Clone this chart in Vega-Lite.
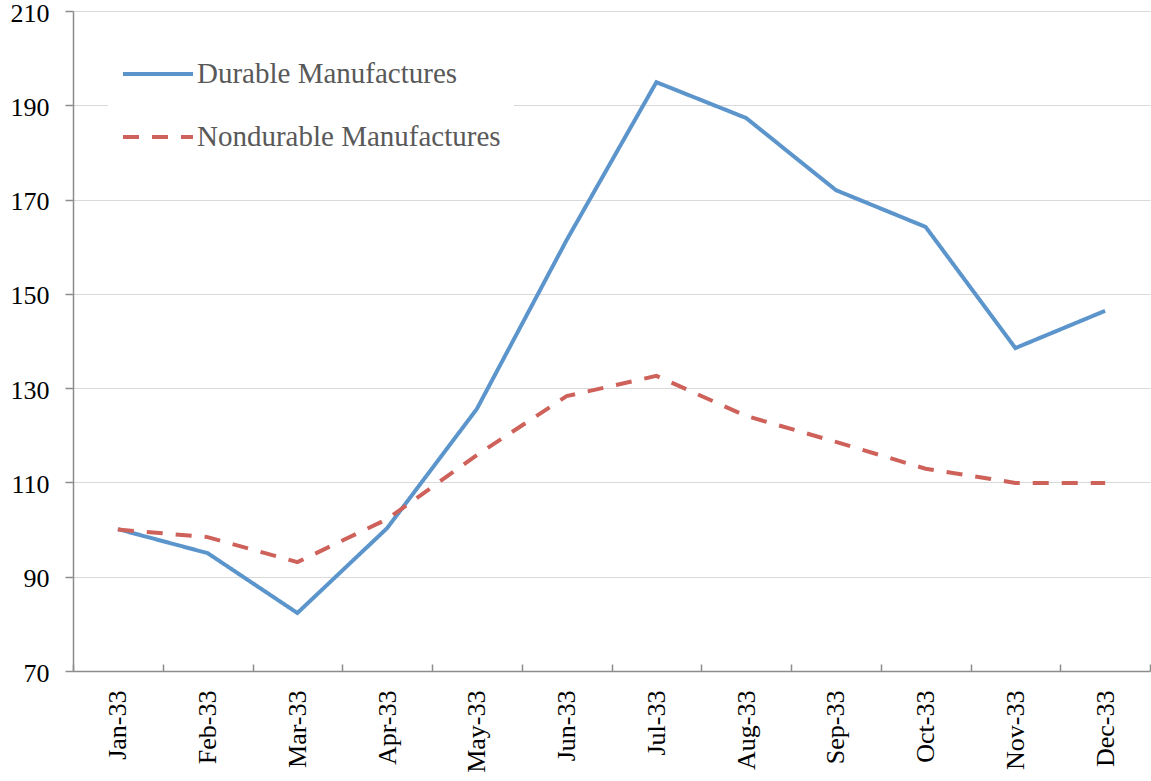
{
  "$schema": "https://vega.github.io/schema/vega-lite/v6.json",
  "width": 1077,
  "height": 660,
  "autosize": {"type": "none"},
  "padding": {"left": 73, "top": 11, "right": 1, "bottom": 110},
  "background": "white",
  "config": {"view": {"stroke": null}, "font": "Liberation Serif"},
  "data": {
    "values": [
      {"month": "Jan-33", "series": "Durable Manufactures", "value": 100.1},
      {"month": "Feb-33", "series": "Durable Manufactures", "value": 95.0},
      {"month": "Mar-33", "series": "Durable Manufactures", "value": 82.3},
      {"month": "Apr-33", "series": "Durable Manufactures", "value": 100.3},
      {"month": "May-33", "series": "Durable Manufactures", "value": 125.6},
      {"month": "Jun-33", "series": "Durable Manufactures", "value": 161.4},
      {"month": "Jul-33", "series": "Durable Manufactures", "value": 194.9},
      {"month": "Aug-33", "series": "Durable Manufactures", "value": 187.3},
      {"month": "Sep-33", "series": "Durable Manufactures", "value": 172.0},
      {"month": "Oct-33", "series": "Durable Manufactures", "value": 164.2},
      {"month": "Nov-33", "series": "Durable Manufactures", "value": 138.5},
      {"month": "Dec-33", "series": "Durable Manufactures", "value": 146.4},
      {"month": "Jan-33", "series": "Nondurable Manufactures", "value": 100.0},
      {"month": "Feb-33", "series": "Nondurable Manufactures", "value": 98.4},
      {"month": "Mar-33", "series": "Nondurable Manufactures", "value": 93.1},
      {"month": "Apr-33", "series": "Nondurable Manufactures", "value": 102.2},
      {"month": "May-33", "series": "Nondurable Manufactures", "value": 115.8},
      {"month": "Jun-33", "series": "Nondurable Manufactures", "value": 128.3},
      {"month": "Jul-33", "series": "Nondurable Manufactures", "value": 132.6},
      {"month": "Aug-33", "series": "Nondurable Manufactures", "value": 124.1},
      {"month": "Sep-33", "series": "Nondurable Manufactures", "value": 118.6},
      {"month": "Oct-33", "series": "Nondurable Manufactures", "value": 112.9},
      {"month": "Nov-33", "series": "Nondurable Manufactures", "value": 109.9},
      {"month": "Dec-33", "series": "Nondurable Manufactures", "value": 109.9}
    ]
  },
  "mark": {"type": "line", "strokeWidth": 4},
  "encoding": {
    "x": {
      "field": "month",
      "type": "ordinal",
      "sort": null,
      "scale": {"type": "band", "paddingInner": 0, "paddingOuter": 0},
      "axis": {
        "title": null,
        "labelAngle": -90,
        "labelFontSize": 26,
        "labelColor": "black",
        "labelFont": "Liberation Serif",
        "tickBand": "extent",
        "tickSize": -7,
        "tickColor": "#8c8c8c",
        "tickWidth": 1.5,
        "domainColor": "#8c8c8c",
        "domainWidth": 1.5,
        "labelPadding": 26,
        "grid": false
      }
    },
    "y": {
      "field": "value",
      "type": "quantitative",
      "scale": {"domain": [70, 210], "nice": false, "zero": false},
      "axis": {
        "title": null,
        "values": [70, 90, 110, 130, 150, 170, 190, 210],
        "labelFontSize": 26,
        "labelColor": "black",
        "labelFont": "Liberation Serif",
        "labelOffset": 2,
        "tickSize": 8,
        "tickColor": "#8c8c8c",
        "tickWidth": 1.5,
        "domainColor": "#8c8c8c",
        "domainWidth": 1.5,
        "labelPadding": 16,
        "gridColor": "#d9d9d9",
        "gridWidth": 1
      }
    },
    "color": {
      "field": "series",
      "type": "nominal",
      "scale": {
        "domain": ["Durable Manufactures", "Nondurable Manufactures"],
        "range": ["#5B95CB", "#CF615B"]
      },
      "legend": {
        "title": null,
        "orient": "none",
        "legendX": 35,
        "legendY": 13,
        "fillColor": "white",
        "padding": 13,
        "symbolType": "stroke",
        "symbolSize": 4900,
        "symbolStrokeWidth": 4,
        "labelFontSize": 29,
        "labelColor": "#595959",
        "labelFont": "Liberation Serif",
        "labelOffset": 2,
        "rowPadding": 11,
        "labelLimit": 0
      }
    },
    "strokeDash": {
      "field": "series",
      "type": "nominal",
      "scale": {
        "domain": ["Durable Manufactures", "Nondurable Manufactures"],
        "range": [[1, 0], [16, 13]]
      },
      "legend": {
        "title": null,
        "orient": "none",
        "legendX": 35,
        "legendY": 13,
        "fillColor": "white",
        "padding": 13,
        "symbolType": "stroke",
        "symbolSize": 4900,
        "symbolStrokeWidth": 4,
        "labelFontSize": 29,
        "labelColor": "#595959",
        "labelFont": "Liberation Serif",
        "labelOffset": 2,
        "rowPadding": 11,
        "labelLimit": 0
      }
    }
  }
}
